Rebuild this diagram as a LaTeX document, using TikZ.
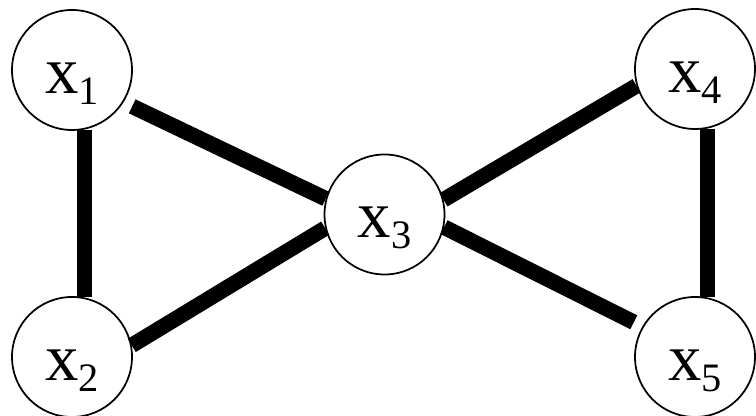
\documentclass[tikz,border=0pt]{standalone}
\usepackage{fontspec}
\setmainfont{Liberation Serif}
\usetikzlibrary{positioning, calc}

\newcommand{\varx}[1]{x\raisebox{-6pt}{\fontsize{23}{23}\selectfont #1}}

\begin{document}
\begin{tikzpicture}[
        vertex/.style={circle, draw, line width=0.035cm, minimum size=2.4cm, inner sep=0pt,
                       font=\fontsize{38}{38}\selectfont, text height=1.14cm, text depth=0.2cm},
        edge/.style={line width=0.31cm}
    ]
        \useasboundingbox (0,0) rectangle (15.12,8.32);

        % vertices
        \node[vertex] (x1) at (1.44,6.92) {\varx{1}};
        \node[vertex] (x2) at (1.44,1.18) {\varx{2}};
        \node[vertex] (x3) at (7.69,4.03) {\varx{3}};
        \node[vertex] (x4) at (13.90,6.94) {\varx{4}};
        \node[vertex] (x5) at (13.90,1.18) {\varx{5}};

        % left triangle
        \draw[edge] (x1.-78) -- (x2.78);
        \draw[edge, shorten <=0.19cm] (x1.-32) -- (x3.165);
        \draw[edge] (x2.11) -- (x3.-167);

        % right triangle
        \draw[edge] (x4.-78) -- (x5.78);
        \draw[edge] (x3.14) -- (x4.196);
        \draw[edge, shorten >=0.19cm] (x3.-12) -- (x5.150);
    \end{tikzpicture}
\end{document}
